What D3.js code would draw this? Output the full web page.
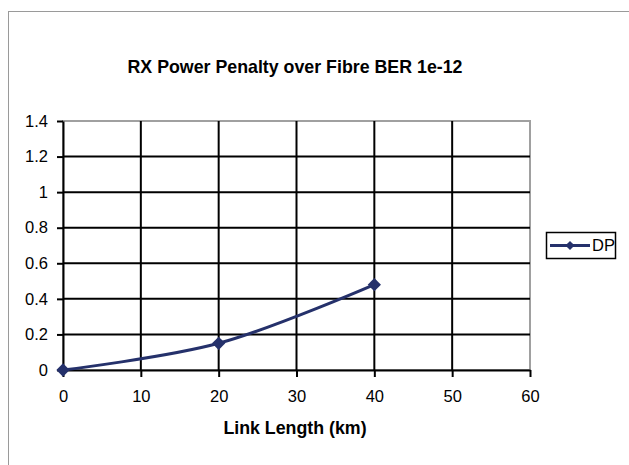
<!DOCTYPE html>
<html><head><meta charset="utf-8">
<script src="https://cdn.jsdelivr.net/npm/d3@7"></script>
<style>body{margin:0;background:#fff}svg{display:block}text{font-family:"Liberation Sans",Arial,sans-serif}</style>
</head><body><svg id="c" width="629" height="465"></svg>
<script>
const seriesName = "DP";
const xValues = [0, 20, 40];
const yValues = [0, 0.15, 0.48];
const xTicks = [0, 10, 20, 30, 40, 50, 60];
const yTicks = [0, 0.2, 0.4, 0.6, 0.8, 1, 1.2, 1.4];
const title = "RX Power Penalty over Fibre BER 1e-12";
const xTitle = "Link Length (km)";

const svg = d3.select("#c");
const L = 63, R = 530, T = 121, B = 370;
const x = d3.scaleLinear().domain([0, 60]).range([L, R]);
const y = d3.scaleLinear().domain([0, 1.4]).range([B, T]);
const col = "#25316b";
const FONT = '"Liberation Sans",Arial,sans-serif';

// outer frame
svg.append("rect").attr("x", 8.5).attr("y", 11.5).attr("width", 640).attr("height", 470)
  .attr("fill", "#fff").attr("stroke", "#9a9a9a").attr("stroke-width", 1);

// plot border
svg.append("rect").attr("x", L).attr("y", T).attr("width", R - L).attr("height", B - T)
  .attr("fill", "none").attr("stroke", "#a0a0a0").attr("stroke-width", 2);

// gridlines
svg.append("g").selectAll("line").data(yTicks.filter(d => d > 0 && d < 1.4)).join("line")
  .attr("x1", L).attr("x2", R).attr("y1", d => y(d)).attr("y2", d => y(d))
  .attr("stroke", "#000").attr("stroke-width", 2);
svg.append("g").selectAll("line").data(xTicks.filter(d => d > 0 && d < 60)).join("line")
  .attr("x1", d => x(d)).attr("x2", d => x(d)).attr("y1", T).attr("y2", B)
  .attr("stroke", "#000").attr("stroke-width", 2);

// axes
const xa = svg.append("g").attr("transform", `translate(0,${B})`)
  .call(d3.axisBottom(x).tickValues(xTicks).tickSize(7).tickPadding(13).tickSizeOuter(0));
const ya = svg.append("g").attr("transform", `translate(${L},0)`)
  .call(d3.axisLeft(y).tickValues(yTicks).tickSize(6).tickPadding(9).tickSizeOuter(0)
    .tickFormat(d => String(+d.toFixed(1))));
[xa, ya].forEach(a => {
  a.attr("font-size", null).attr("font-family", null);
  a.select(".domain").attr("stroke", "#000").attr("stroke-width", 2);
  a.selectAll(".tick line").attr("stroke", "#000").attr("stroke-width", 2);
  a.selectAll("text").style("font-size", "16.5px").style("font-family", FONT).attr("fill", "#000");
});

// line
const data = xValues.map((v, i) => [v, yValues[i]]);
svg.append("path").datum(data)
  .attr("d", d3.line().x(d => x(d[0])).y(d => y(d[1])).curve(d3.curveCatmullRom.alpha(0.5)))
  .attr("fill", "none").attr("stroke", col).attr("stroke-width", 3);
const diamond = d3.symbol().type(d3.symbolSquare).size(88);
svg.append("g").selectAll("path").data(data).join("path")
  .attr("transform", d => `translate(${x(d[0])},${y(d[1])}) rotate(45)`)
  .attr("d", diamond).attr("fill", col);

// titles
svg.append("text").attr("x", 295).attr("y", 72.5).attr("text-anchor", "middle")
  .style("font-size", "17.8px").attr("font-weight", "bold").text(title);
svg.append("text").attr("x", 295).attr("y", 434).attr("text-anchor", "middle")
  .style("font-size", "17.8px").attr("font-weight", "bold").text(xTitle);

// legend
const lg = svg.append("g");
lg.append("rect").attr("x", 546.5).attr("y", 232.5).attr("width", 69).attr("height", 26)
  .attr("fill", "#fff").attr("stroke", "#000").attr("stroke-width", 1.5);
lg.append("line").attr("x1", 550).attr("x2", 590).attr("y1", 245.5).attr("y2", 245.5)
  .attr("stroke", col).attr("stroke-width", 3);
lg.append("path").attr("transform", "translate(570,245.5) rotate(45)")
  .attr("d", d3.symbol().type(d3.symbolSquare).size(42)).attr("fill", col);
lg.append("text").attr("x", 592).attr("y", 251).style("font-size", "16.5px").text(seriesName);
</script></body></html>
